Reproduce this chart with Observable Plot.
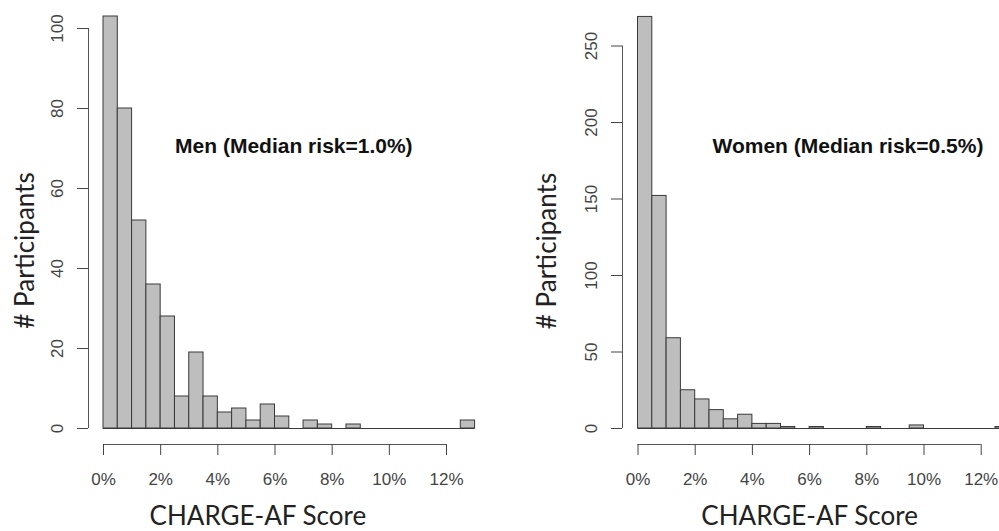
<!DOCTYPE html>
<html><head><meta charset="utf-8">
<script src="https://cdn.jsdelivr.net/npm/d3@7"></script>
<script src="https://cdn.jsdelivr.net/npm/@observablehq/plot@0.6"></script>
<style>
html,body{margin:0;padding:0;background:#fff;overflow:hidden;}
#wrap{position:relative;width:999px;height:531px;overflow:hidden;background:#fff;}
.panel{position:absolute;top:0;}
.panel svg{max-width:none !important;display:block;}
</style></head><body>
<div id="wrap"><div class="panel" id="men" style="left:0"></div><div class="panel" id="women" style="left:500px"></div></div>
<script>
// Histogram bins (CHARGE-AF score, %), bin width 0.5
const binStarts = [0,0.5,1,1.5,2,2.5,3,3.5,4,4.5,5,5.5,6,6.5,7,7.5,8,8.5,9,9.5,10,10.5,11,11.5,12,12.5];
const binWidth = 0.5;
const menCounts   = [103,80,52,36,28,8,19,8,4,5,2,6,3,0,2,1,0,1,0,0,0,0,0,0,0,2];
const womenCounts = [269,152,59,25,19,12,6,9,3,3,1,0,1,0,0,0,1,0,0,2,0,0,0,0,0,1];
const xTicks = [0,2,4,6,8,10,12];
const menYTicks = [0,20,40,60,80,100];
const womenYTicks = [0,50,100,150,200,250];
const menLabel = "Men (Median risk=1.0%)";
const womenLabel = "Women (Median risk=0.5%)";
const xTitle = "CHARGE-AF Score";
const yTitle = "# Participants";

function panel(cfg) {
  const rows = binStarts.map((s, i) => ({x1: s, x2: s + binWidth, count: cfg.counts[i]}));
  const xEnd = binStarts[binStarts.length - 1] + binWidth;
  return Plot.plot({
    width: cfg.width, height: 531,
    marginLeft: cfg.marginLeft, marginRight: cfg.marginRight,
    marginTop: cfg.marginTop, marginBottom: 87,
    x: {domain: [xTicks[0], xTicks[xTicks.length - 1]], insetLeft: cfg.insetLeft},
    y: {domain: [cfg.yTicks[0], cfg.yTicks[cfg.yTicks.length - 1]], insetBottom: 16},
    style: {fontFamily: "'Liberation Sans', Arial, sans-serif", fontSize: "17px", background: "white", overflow: "visible"},
    marks: [
      Plot.rectY(rows, {x1: "x1", x2: "x2", y: "count", fill: "#bebebe", stroke: "#3a3a3a", strokeWidth: 1}),
      Plot.ruleY([0], {x1: 0, x2: xEnd, stroke: "#3a3a3a"}),
      Plot.ruleX([0], {y1: cfg.yTicks[0], y2: cfg.yTicks[cfg.yTicks.length - 1], dx: -cfg.insetLeft, stroke: "#555"}),
      Plot.ruleY([0], {x1: xTicks[0], x2: xTicks[xTicks.length - 1], dy: 16, stroke: "#555"}),
      Plot.axisY({ticks: cfg.yTicks, tickSize: 11, tickPadding: 15, tickRotate: -90, label: null, fontSize: 17, color: "#444"}),
      Plot.axisX({ticks: xTicks, tickFormat: d => d + "%", tickSize: 11, tickPadding: 17, label: null, fontSize: 17, color: "#444"}),
      Plot.text([cfg.label], {x: cfg.labelX, y: cfg.labelY, fontWeight: "bold", fontSize: 21, lineAnchor: "bottom", fill: "#111"}),
      Plot.text([xTitle], {x: cfg.xTitleX, frameAnchor: "bottom", dy: 80, textAnchor: "middle", lineAnchor: "bottom", fontFamily: "Lato", fontSize: 26, fill: "#222"}),
      Plot.text([yTitle], {y: cfg.yTitleY, frameAnchor: "left", dx: cfg.yTitleDx, textAnchor: "middle", rotate: -90, fontFamily: "Lato", fontSize: 26, fill: "#222"})
    ]
  });
}

document.getElementById("men").append(panel({
  counts: menCounts, yTicks: menYTicks, label: menLabel,
  width: 500, marginLeft: 88, marginRight: 54, marginTop: 28, insetLeft: 15,
  labelX: 6.66, labelY: 69, xTitleX: 5.4, yTitleY: 44.5, yTitleDx: -63
}));
document.getElementById("women").append(panel({
  counts: womenCounts, yTicks: womenYTicks, label: womenLabel,
  width: 510, marginLeft: 122, marginRight: 29.3, marginTop: 45.5, insetLeft: 15.5,
  labelX: 7.34, labelY: 180, xTitleX: 6.0, yTitleY: 116, yTitleDx: -75
}));
</script>
</body></html>
